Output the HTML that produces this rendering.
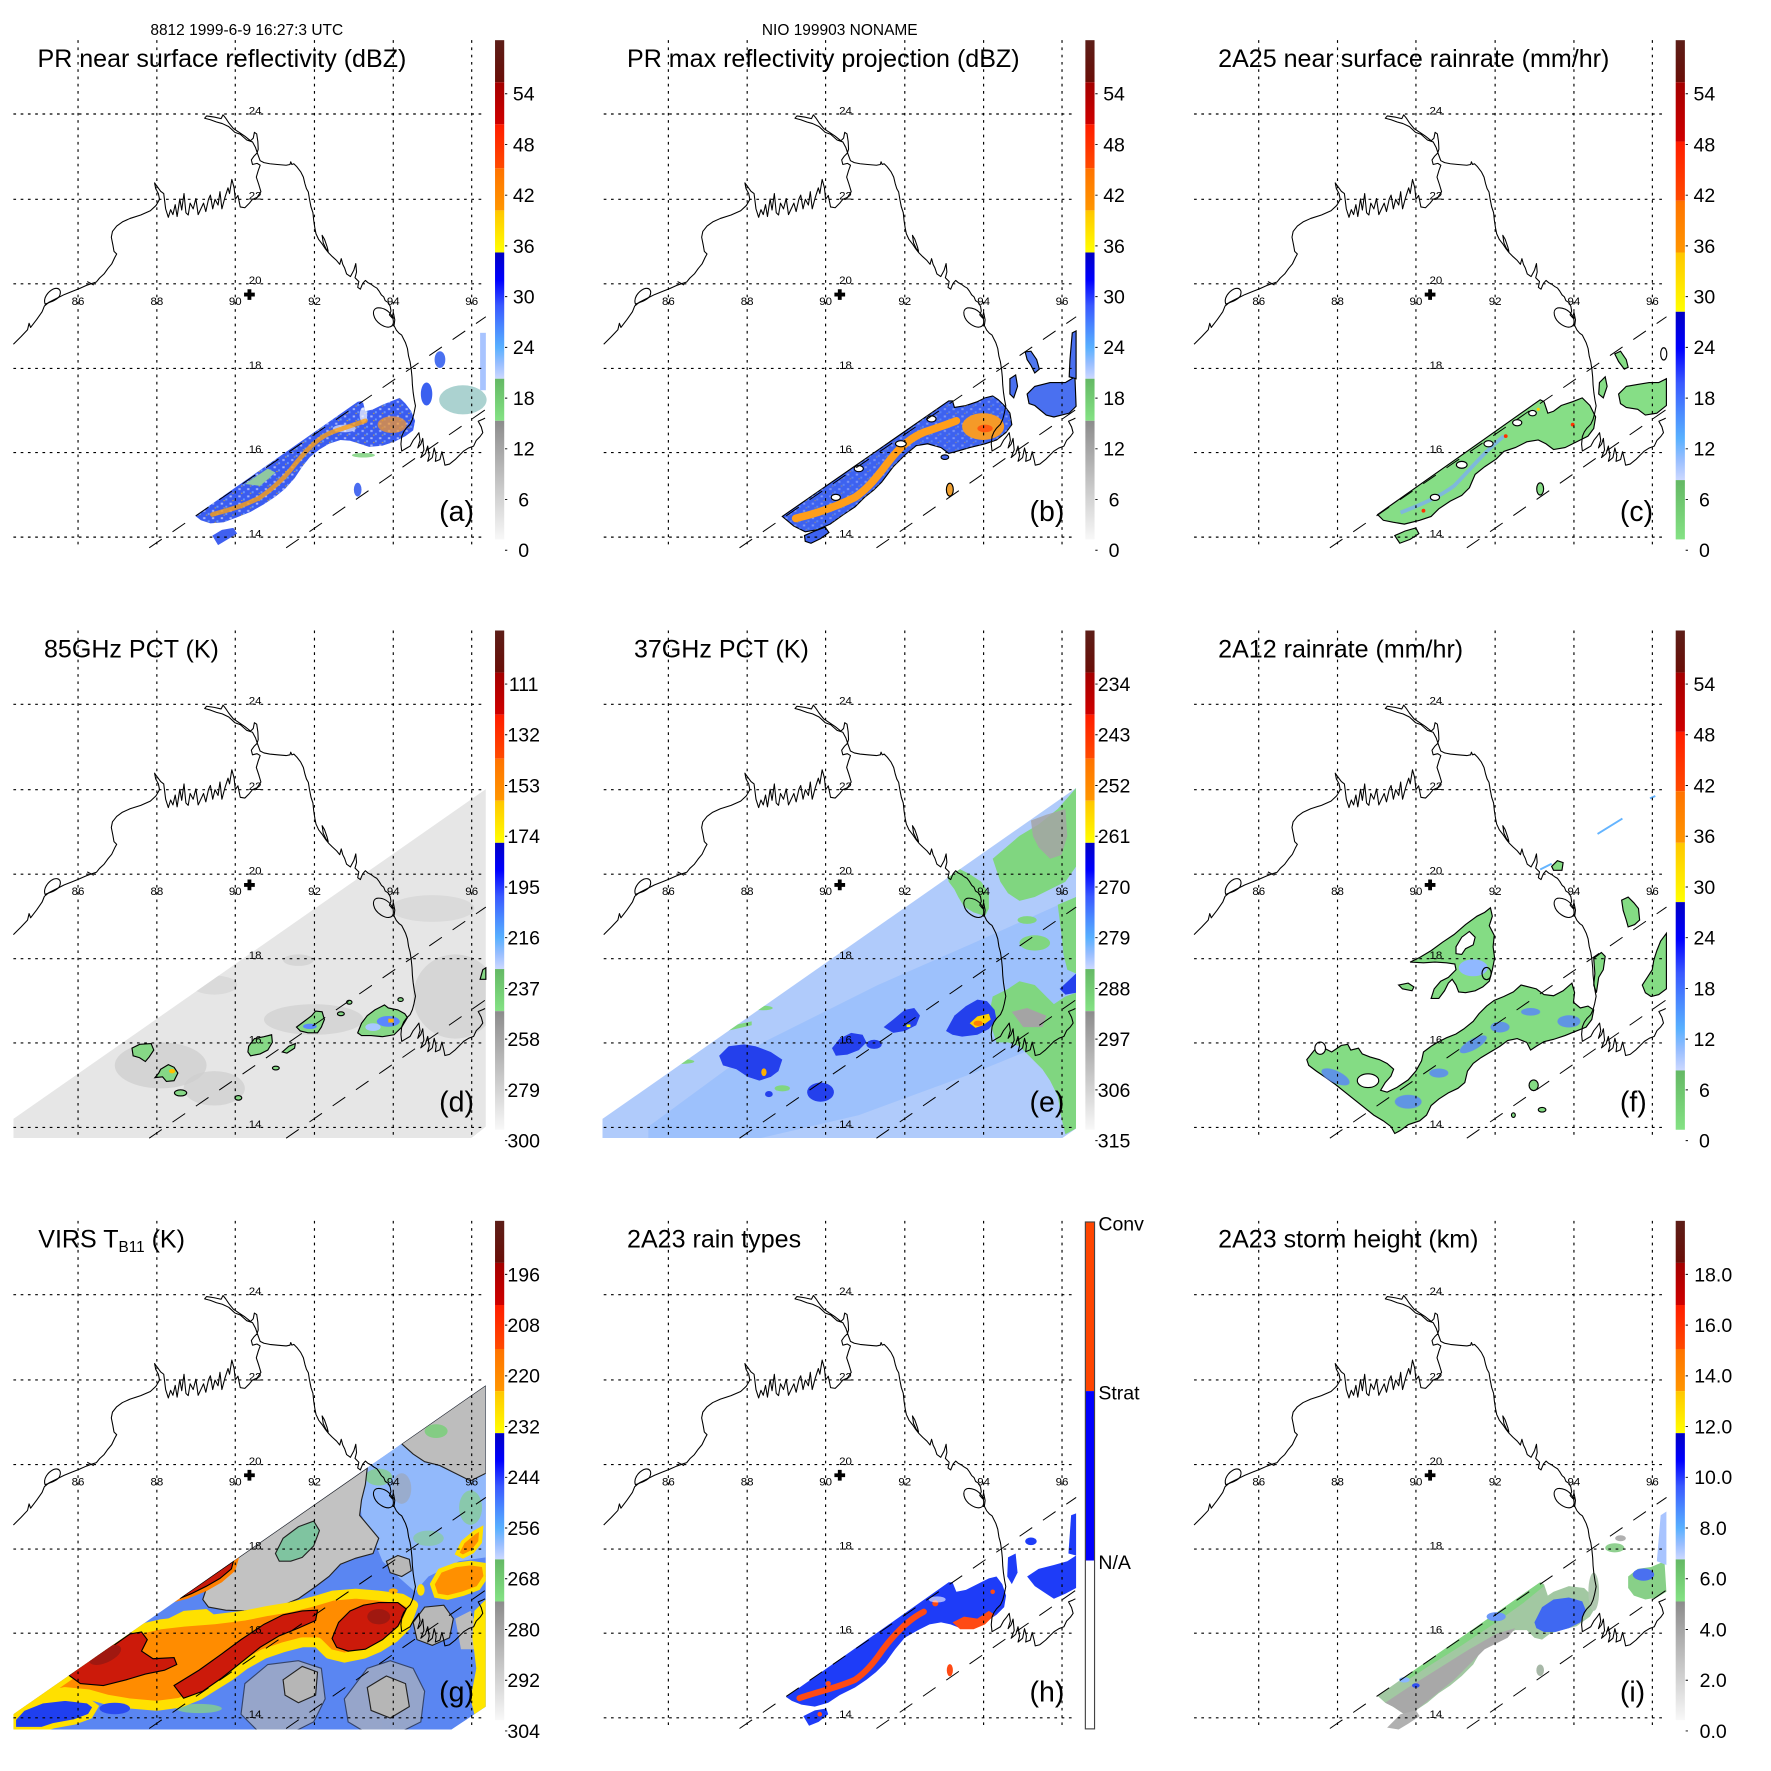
<!DOCTYPE html>
<html><head><meta charset="utf-8">
<style>
html,body{margin:0;padding:0;background:#fff;}
svg{display:block;}
text{font-family:"Liberation Sans",Arial,Helvetica,sans-serif;fill:#000;}
</style></head>
<body>
<svg xmlns="http://www.w3.org/2000/svg" xmlns:xlink="http://www.w3.org/1999/xlink" width="1771" height="1771" viewBox="0 0 1771 1771">
<rect width="1771" height="1771" fill="#fff"/>
<defs>
<linearGradient id="gBrown" x1="0" y1="0" x2="0" y2="1"><stop offset="0" stop-color="#5c1e18"/><stop offset="1" stop-color="#6a0e08"/></linearGradient>
<linearGradient id="gDkRed" x1="0" y1="0" x2="0" y2="1"><stop offset="0" stop-color="#a30000"/><stop offset="1" stop-color="#cf0000"/></linearGradient>
<linearGradient id="gRed" x1="0" y1="0" x2="0" y2="1"><stop offset="0" stop-color="#ff1c00"/><stop offset="1" stop-color="#ff4a00"/></linearGradient>
<linearGradient id="gOrange" x1="0" y1="0" x2="0" y2="1"><stop offset="0" stop-color="#ff7200"/><stop offset="1" stop-color="#ff9600"/></linearGradient>
<linearGradient id="gYellow" x1="0" y1="0" x2="0" y2="1"><stop offset="0" stop-color="#ffc600"/><stop offset="1" stop-color="#ffff00"/></linearGradient>
<linearGradient id="gBlue" x1="0" y1="0" x2="0" y2="1"><stop offset="0" stop-color="#0000c4"/><stop offset="0.22" stop-color="#0000ff"/><stop offset="0.42" stop-color="#3858ff"/><stop offset="0.6" stop-color="#4a8aff"/><stop offset="0.75" stop-color="#58b0ff"/><stop offset="0.88" stop-color="#98beff"/><stop offset="1" stop-color="#ccd8ff"/></linearGradient>
<linearGradient id="gGreen" x1="0" y1="0" x2="0" y2="1"><stop offset="0" stop-color="#64b864"/><stop offset="1" stop-color="#84e284"/></linearGradient>
<linearGradient id="gGrey" x1="0" y1="0" x2="0" y2="1"><stop offset="0" stop-color="#8c8c8c"/><stop offset="1" stop-color="#f8f8f8"/></linearGradient>
<pattern id="speck" width="23" height="19" patternUnits="userSpaceOnUse">
<rect x="2" y="3" width="6" height="5" fill="#fff" opacity="0.55"/>
<rect x="14" y="11" width="5" height="5" fill="#7fb4ff" opacity="0.7"/>
<rect x="9" y="15" width="4" height="3" fill="#ffc000" opacity="0.6"/>
</pattern>

<clipPath id="clipD"><path d="M35,1380 L1270,518 L1270,1400 L1232,1430 L35,1430 Z"/></clipPath>
<clipPath id="clipE"><path d="M30,1380 L1268,515 L1268,1405 L1232,1430 L30,1430 Z"/></clipPath>
<clipPath id="clipG"><path d="M35,1420 L1270,560 L1270,1400 L1180,1460 L35,1460 Z"/></clipPath>

<g id="grid"><path d="M204,105V1430M410,105V1430M615,105V1430M822,105V1430M1028,105V1430M1233,105V1430M35,298H1270M35,521H1270M35,742H1270M35,963H1270M35,1183H1270M35,1404H1270" fill="none" stroke="#000" stroke-width="3" stroke-dasharray="7 12"/></g>
<g id="swath"><path d="M390,1432L1270,828M748,1432L1270,1070" fill="none" stroke="#000" stroke-width="2.6" stroke-dasharray="40 34"/></g>
<g id="coast" fill="none" stroke="#000" stroke-width="2.8" stroke-linejoin="round">
<path d="M35,900 L55,880 L72,862 L76,845 L80,856 L96,835 L110,815 L116,800 L128,790 L148,780 L168,770 L188,762 L208,754 L226,746 L240,741 L252,737 L260,727 L272,716 L282,702 L292,690 L300,673 L305,664 L298,657 L295,640 L291,620 L294,605 L305,591 L320,580 L340,571 L368,562 L393,551 L408,537 L417,521 L414,506 L407,493 L404,478 L412,489 L420,500 L428,506 L430,522 L433,546 L440,568 L446,548 L452,561 L458,535 L463,566 L470,520 L475,549 L481,506 L486,556 L492,562 L497,531 L505,546 L512,519 L518,561 L525,546 L532,531 L538,553 L545,521 L550,510 L556,546 L562,521 L570,536 L575,501 L580,546 L588,516 L596,491 L600,506 L606,469 L612,491 L615,521 L622,511 L628,541 L640,543 L652,531 L660,521 L672,516 L682,501 L676,481 L670,463 L675,446 L680,432 L672,427 L660,430 L657,418 L664,408 L672,400 L675,390 L674,370 L671,350 L665,346 L662,361 L655,368 L640,356 L625,346 L610,336 L598,321 L590,309 L583,300 L578,310 L560,306 L540,303 L535,309 L550,313 L566,319 L581,323 L598,331 L614,346 L628,351 L645,366 L660,371 L668,386 L673,401 L680,420 L690,425 L705,428 L725,430 L748,432 L758,430 L760,423 L763,430 L768,428 L776,436 L786,449 L793,463 L797,480 L801,493 L806,502 L809,521 L813,541 L818,556 L820,576 L823,596 L826,611 L833,626 L843,639 L851,651 L859,661 L869,671 L880,681 L888,691 L892,676 L896,691 L901,701 L906,716 L916,723 L925,706 L930,689 L932,711 L928,726 L938,736 L935,751 L942,756 L948,741 L955,733 L962,739 L970,743 L978,749 L985,753 L991,761 L997,771 L1003,776 L1007,786 L1015,791 L1020,801 L1022,813 L1018,823 L1025,831 L1028,816 L1032,836 L1030,851 L1036,863 L1043,871 L1050,876 L1055,886 L1060,896 L1065,911 L1068,931 L1072,946 L1075,966 L1077,986 L1078,1006 L1080,1026 L1083,1046 L1086,1061 L1082,1081 L1078,1096 L1072,1109 L1062,1119 L1055,1129 L1050,1141 L1048,1161 L1050,1179 L1060,1173 L1072,1166 L1080,1151 L1088,1141 L1095,1131 L1098,1151 L1092,1171 L1100,1161 L1105,1146 L1108,1176 L1100,1196 L1112,1186 L1118,1166 L1122,1191 L1118,1206 L1130,1196 L1135,1171 L1140,1191 L1138,1206 L1150,1201 L1155,1181 L1160,1201 L1163,1216 L1175,1213 L1190,1201 L1200,1191 L1212,1179 L1225,1171 L1238,1166 L1245,1151 L1255,1141 L1262,1131 L1258,1116 L1250,1101 L1262,1096 L1268,1093"/>
<path d="M118,795 C112,780 125,762 140,755 C155,750 162,760 155,775 C148,785 130,790 118,795 Z"/>
<path d="M985,805 C970,810 975,835 995,848 C1010,858 1025,858 1028,845 C1030,830 1020,815 1005,808 C998,805 990,804 985,805 Z"/>
<path d="M842,615 L848,625 L855,645 L858,657 L852,650 L845,635 Z"/>
<path d="M228,736 L245,745"/>
</g>
<path id="cross" d="M638,765h28v10h-28zM647,756h10v28h-10z" fill="#000"/>
<g id="cbStd">
<rect x="1294" y="105" width="24" height="110" fill="url(#gBrown)"/>
<rect x="1294" y="215" width="24" height="110" fill="url(#gDkRed)"/>
<rect x="1294" y="325" width="24" height="115" fill="url(#gRed)"/>
<rect x="1294" y="440" width="24" height="110" fill="url(#gOrange)"/>
<rect x="1294" y="550" width="24" height="110" fill="url(#gYellow)"/>
<rect x="1294" y="660" width="24" height="330" fill="url(#gBlue)"/>
<rect x="1294" y="990" width="24" height="110" fill="url(#gGreen)"/>
<rect x="1294" y="1100" width="24" height="310" fill="url(#gGrey)"/>
<path d="M1320,245h6M1320,377.6h6M1320,510.2h6M1320,642.8h6M1320,775.4h6M1320,908h6M1320,1040.6h6M1320,1173.2h6M1320,1305.8h6M1320,1438.4h6" stroke="#000" stroke-width="2.5"/>
</g>
<g id="cbRain">
<rect x="1294" y="105" width="24" height="110" fill="url(#gBrown)"/>
<rect x="1294" y="215" width="24" height="155" fill="url(#gDkRed)"/>
<rect x="1294" y="370" width="24" height="155" fill="url(#gRed)"/>
<rect x="1294" y="525" width="24" height="135" fill="url(#gOrange)"/>
<rect x="1294" y="660" width="24" height="155" fill="url(#gYellow)"/>
<rect x="1294" y="815" width="24" height="440" fill="url(#gBlue)"/>
<rect x="1294" y="1255" width="24" height="155" fill="url(#gGreen)"/>
<path d="M1320,245h6M1320,377.6h6M1320,510.2h6M1320,642.8h6M1320,775.4h6M1320,908h6M1320,1040.6h6M1320,1173.2h6M1320,1305.8h6M1320,1438.4h6" stroke="#000" stroke-width="2.5"/>
</g>
</defs>

<!-- ================= (a) ================= -->
<g transform="translate(0,0) scale(0.38256)">
<g>
<path id="bandA" d="M510,1348 L935,1050 L948,1048 L955,1075 L975,1070 L1000,1058 L1025,1048 L1045,1040 L1060,1055 L1075,1075 L1085,1100 L1080,1125 L1060,1140 L1030,1155 L1000,1165 L965,1168 L940,1160 L915,1152 L890,1150 L860,1160 L835,1175 L810,1195 L790,1220 L770,1250 L745,1278 L720,1298 L690,1318 L655,1338 L620,1352 L585,1365 L550,1368 L525,1360 Z" fill="#3a5cf0"/>
<path d="M510,1348 L935,1050 L948,1048 L955,1075 L975,1070 L1000,1058 L1025,1048 L1045,1040 L1060,1055 L1075,1075 L1085,1100 L1080,1125 L1060,1140 L1030,1155 L1000,1165 L965,1168 L940,1160 L915,1152 L890,1150 L860,1160 L835,1175 L810,1195 L790,1220 L770,1250 L745,1278 L720,1298 L690,1318 L655,1338 L620,1352 L585,1365 L550,1368 L525,1360 Z" fill="url(#speck)"/>
<ellipse cx="900" cy="1120" rx="30" ry="10" fill="#fff" opacity="0.6"/>
<ellipse cx="950" cy="1085" rx="10" ry="20" fill="#fff" opacity="0.7"/>
<path d="M640,1265 L700,1225 L720,1235 L680,1270 Z" fill="#90c8a0"/>
<path d="M555,1345 C600,1332 640,1322 680,1300 C720,1272 742,1250 762,1225 C790,1190 822,1150 862,1132 C892,1120 922,1112 955,1100" fill="none" stroke="#ffa010" stroke-width="12" stroke-linecap="round" opacity="0.8"/>
<ellipse cx="1025" cy="1110" rx="38" ry="22" fill="#ff9a20" opacity="0.7"/>
<ellipse cx="1210" cy="1045" rx="62" ry="38" fill="#9ccac8" opacity="0.85"/>
<rect x="1255" y="870" width="15" height="150" fill="#a8c4ff"/>
<ellipse cx="1150" cy="940" rx="14" ry="22" fill="#4a70f0"/>
<ellipse cx="1115" cy="1030" rx="15" ry="30" fill="#3a60f0"/>
<path d="M555,1400 L580,1385 L610,1380 L620,1395 L595,1410 L570,1425 Z" fill="#4060f0"/>
<ellipse cx="935" cy="1280" rx="10" ry="18" fill="#4a6cf0"/>
<ellipse cx="950" cy="1190" rx="30" ry="6" fill="#90d890"/>
</g>
<use href="#swath" xlink:href="#swath"/><use href="#grid" xlink:href="#grid"/><use href="#coast" xlink:href="#coast"/><use href="#cross" xlink:href="#cross"/><use href="#cbStd" xlink:href="#cbStd"/>
<g font-size="30" text-anchor="middle"><text x="204" y="797">86</text><text x="410" y="797">88</text><text x="615" y="797">90</text><text x="822" y="797">92</text><text x="1028" y="797">94</text><text x="1233" y="797">96</text><text x="667" y="299">24</text><text x="667" y="522">22</text><text x="667" y="743">20</text><text x="667" y="964">18</text><text x="667" y="1184">16</text><text x="667" y="1405">14</text></g>
<text x="645" y="92" font-size="40.5" text-anchor="middle">8812 1999-6-9 16:27:3 UTC</text>
<text x="98" y="175" font-size="65.5">PR near surface reflectivity (dBZ)</text>
<g font-size="51" text-anchor="middle"><text x="1369" y="263">54</text><text x="1369" y="395.6">48</text><text x="1369" y="528.2">42</text><text x="1369" y="660.8">36</text><text x="1369" y="793.4">30</text><text x="1369" y="926">24</text><text x="1369" y="1058.6">18</text><text x="1369" y="1191.2">12</text><text x="1369" y="1323.8">6</text><text x="1369" y="1456.4">0</text></g>
<text x="1148" y="1362" font-size="74.5">(a)</text>
</g>

<!-- ================= (b) ================= -->
<g transform="translate(590.33,0) scale(0.38256)">
<g transform="translate(1.75,0)">
<path d="M500,1350 L935,1048 L945,1048 L950,1065 L980,1060 L1010,1050 L1030,1040 L1050,1035 L1065,1045 L1080,1060 L1095,1080 L1100,1110 L1085,1130 L1060,1150 L1030,1160 L990,1170 L955,1180 L935,1185 L915,1170 L880,1160 L850,1165 L820,1190 L790,1220 L760,1260 L740,1280 L715,1300 L690,1325 L660,1345 L625,1370 L590,1385 L560,1390 L530,1375 Z" fill="#3d62f0" stroke="#000" stroke-width="3"/>
<path d="M500,1350 L935,1048 L945,1048 L950,1065 L980,1060 L1010,1050 L1030,1040 L1050,1035 L1065,1045 L1080,1060 L1095,1080 L1100,1110 L1085,1130 L1060,1150 L1030,1160 L990,1170 L955,1180 L935,1185 L915,1170 L880,1160 L850,1165 L820,1190 L790,1220 L760,1260 L740,1280 L715,1300 L690,1325 L660,1345 L625,1370 L590,1385 L560,1390 L530,1375 Z" fill="url(#speck)" opacity="0.6"/>
<path d="M535,1355 C600,1340 650,1320 690,1300 C720,1280 740,1255 760,1230 C790,1190 820,1150 870,1130 C900,1120 930,1110 955,1100" fill="none" stroke="#ff9e1a" stroke-width="20" stroke-linecap="round"/>
<ellipse cx="1025" cy="1115" rx="55" ry="35" fill="#f59a28"/>
<ellipse cx="1030" cy="1120" rx="20" ry="10" fill="#ff5a10"/>
<ellipse cx="700" cy="1225" rx="12" ry="8" fill="#fff" stroke="#000" stroke-width="3"/>
<ellipse cx="810" cy="1160" rx="14" ry="8" fill="#fff" stroke="#000" stroke-width="3"/>
<ellipse cx="890" cy="1095" rx="12" ry="8" fill="#fff" stroke="#000" stroke-width="3"/>
<ellipse cx="640" cy="1300" rx="12" ry="8" fill="#fff" stroke="#000" stroke-width="3"/>
<path d="M1140,1030 L1160,1010 L1200,1000 L1240,1000 L1265,985 L1268,1062 L1250,1080 L1210,1090 L1190,1085 L1160,1060 L1145,1055 Z" fill="#4a70f0" stroke="#000" stroke-width="3"/>
<path d="M1135,920 L1150,918 L1165,940 L1172,965 L1160,975 L1150,955 L1140,940 Z" fill="#5078f0" stroke="#000" stroke-width="3"/>
<path d="M1258,870 L1268,865 L1268,990 L1250,985 L1252,940 Z" fill="#4a70f0" stroke="#000" stroke-width="3"/>
<path d="M1095,990 L1110,980 L1115,1010 L1105,1040 L1095,1030 Z" fill="#4a70f0" stroke="#000" stroke-width="3"/>
<path d="M558,1400 L585,1388 L612,1378 L622,1392 L600,1408 L575,1420 L560,1415 Z" fill="#3d62f0" stroke="#000" stroke-width="3"/>
<ellipse cx="938" cy="1280" rx="9" ry="17" fill="#f0a030" stroke="#000" stroke-width="3"/>
<ellipse cx="925" cy="1195" rx="10" ry="6" fill="#4a6cf0" stroke="#000" stroke-width="3"/>
</g>
<use href="#swath" xlink:href="#swath"/><use href="#grid" xlink:href="#grid"/><use href="#coast" xlink:href="#coast"/><use href="#cross" xlink:href="#cross"/><use href="#cbStd" xlink:href="#cbStd"/>
<g font-size="30" text-anchor="middle"><text x="204" y="797">86</text><text x="410" y="797">88</text><text x="615" y="797">90</text><text x="822" y="797">92</text><text x="1028" y="797">94</text><text x="1233" y="797">96</text><text x="667" y="299">24</text><text x="667" y="522">22</text><text x="667" y="743">20</text><text x="667" y="964">18</text><text x="667" y="1184">16</text><text x="667" y="1405">14</text></g>
<text x="652" y="92" font-size="40.5" text-anchor="middle">NIO 199903 NONAME</text>
<text x="96" y="175" font-size="65.5">PR max reflectivity projection (dBZ)</text>
<g font-size="51" text-anchor="middle"><text x="1369" y="263">54</text><text x="1369" y="395.6">48</text><text x="1369" y="528.2">42</text><text x="1369" y="660.8">36</text><text x="1369" y="793.4">30</text><text x="1369" y="926">24</text><text x="1369" y="1058.6">18</text><text x="1369" y="1191.2">12</text><text x="1369" y="1323.8">6</text><text x="1369" y="1456.4">0</text></g>
<text x="1148" y="1362" font-size="74.5">(b)</text>
</g>

<!-- ================= (c) ================= -->
<g transform="translate(1180.67,0) scale(0.38256)">
<g transform="translate(-25.3,0)">
<path d="M540,1345 L965,1045 L975,1050 L985,1080 L1000,1075 L1020,1060 L1050,1050 L1075,1040 L1095,1060 L1110,1090 L1105,1120 L1090,1140 L1060,1155 L1030,1170 L1000,1175 L980,1160 L960,1150 L930,1155 L900,1170 L870,1180 L850,1200 L820,1220 L795,1240 L780,1275 L760,1295 L730,1310 L700,1330 L680,1350 L650,1360 L610,1370 L580,1365 L555,1360 Z" fill="#86de86" stroke="#000" stroke-width="3"/>
<path d="M600,1340 C650,1320 700,1300 740,1270 C780,1230 820,1180 870,1140" fill="none" stroke="#7aa8ff" stroke-width="10" opacity="0.7"/>
<ellipse cx="690" cy="1300" rx="12" ry="8" fill="#fff" stroke="#000" stroke-width="3"/>
<ellipse cx="760" cy="1215" rx="14" ry="9" fill="#fff" stroke="#000" stroke-width="3"/>
<ellipse cx="830" cy="1160" rx="12" ry="8" fill="#fff" stroke="#000" stroke-width="3"/>
<ellipse cx="905" cy="1105" rx="12" ry="8" fill="#fff" stroke="#000" stroke-width="3"/>
<ellipse cx="945" cy="1080" rx="10" ry="7" fill="#fff" stroke="#000" stroke-width="3"/>
<circle cx="660" cy="1335" r="5" fill="#ff3000"/><circle cx="875" cy="1140" r="5" fill="#ff3000"/><circle cx="1050" cy="1110" r="5" fill="#ff3000"/><circle cx="960" cy="1070" r="4" fill="#ffd000"/>
<path d="M1170,1030 L1190,1010 L1220,1005 L1250,1000 L1275,1000 L1295,990 L1295,1060 L1270,1080 L1240,1085 L1220,1070 L1190,1065 L1175,1055 Z" fill="#86de86" stroke="#000" stroke-width="3"/>
<path d="M1160,925 L1175,918 L1190,940 L1195,960 L1185,965 L1170,945 Z" fill="#86de86" stroke="#000" stroke-width="3"/>
<ellipse cx="1288" cy="925" rx="8" ry="16" fill="none" stroke="#000" stroke-width="3"/>
<path d="M1120,1000 L1135,985 L1140,1010 L1130,1040 L1118,1030 Z" fill="#86de86" stroke="#000" stroke-width="3"/>
<path d="M585,1400 L612,1388 L640,1380 L648,1395 L625,1410 L598,1420 Z" fill="#86de86" stroke="#000" stroke-width="3"/>
<ellipse cx="965" cy="1278" rx="9" ry="16" fill="#86de86" stroke="#000" stroke-width="3"/>
</g>
<use href="#swath" xlink:href="#swath"/><use href="#grid" xlink:href="#grid"/><use href="#coast" xlink:href="#coast"/><use href="#cross" xlink:href="#cross"/><use href="#cbRain" xlink:href="#cbRain"/>
<g font-size="30" text-anchor="middle"><text x="204" y="797">86</text><text x="410" y="797">88</text><text x="615" y="797">90</text><text x="822" y="797">92</text><text x="1028" y="797">94</text><text x="1233" y="797">96</text><text x="667" y="299">24</text><text x="667" y="522">22</text><text x="667" y="743">20</text><text x="667" y="964">18</text><text x="667" y="1184">16</text><text x="667" y="1405">14</text></g>
<text x="98" y="175" font-size="65.5">2A25 near surface rainrate (mm/hr)</text>
<g font-size="51" text-anchor="middle"><text x="1369" y="263">54</text><text x="1369" y="395.6">48</text><text x="1369" y="528.2">42</text><text x="1369" y="660.8">36</text><text x="1369" y="793.4">30</text><text x="1369" y="926">24</text><text x="1369" y="1058.6">18</text><text x="1369" y="1191.2">12</text><text x="1369" y="1323.8">6</text><text x="1369" y="1456.4">0</text></g>
<text x="1148" y="1362" font-size="74.5">(c)</text>
</g>

<!-- ================= (d) ================= -->
<g transform="translate(0,590.33) scale(0.38256)">
<g transform="translate(0,1.75)">
<g clip-path="url(#clipD)">
<rect x="0" y="500" width="1300" height="950" fill="#e6e6e6"/>
<ellipse cx="420" cy="1240" rx="120" ry="60" fill="#cdcdcd" opacity="0.75"/>
<ellipse cx="560" cy="1300" rx="80" ry="45" fill="#cfcfcf" opacity="0.75"/>
<ellipse cx="1190" cy="1060" rx="110" ry="110" fill="#d0d0d0" opacity="0.75"/>
<ellipse cx="820" cy="1120" rx="130" ry="40" fill="#d6d6d6"/>
<ellipse cx="1130" cy="830" rx="110" ry="35" fill="#dadada"/>
<ellipse cx="560" cy="1030" rx="60" ry="25" fill="#dadada"/>
<ellipse cx="780" cy="965" rx="40" ry="15" fill="#d6d6d6"/>
</g>
<g fill="#86d886" stroke="#000" stroke-width="3">
<path d="M345,1195 L365,1185 L395,1183 L402,1200 L390,1218 L380,1230 L365,1220 L348,1215 Z"/>
<path d="M420,1250 L440,1238 L455,1245 L465,1260 L455,1280 L435,1282 L425,1270 L405,1272 L415,1260 Z"/>
<ellipse cx="472" cy="1312" rx="16" ry="8"/>
<path d="M650,1190 L665,1170 L690,1165 L710,1160 L712,1180 L700,1200 L680,1210 L655,1215 L648,1205 Z"/>
<path d="M738,1205 L755,1190 L772,1183 L770,1195 L750,1208 Z"/>
<path d="M775,1140 L795,1125 L815,1110 L825,1098 L842,1100 L848,1120 L840,1140 L830,1155 L805,1155 L785,1150 Z"/>
<path d="M935,1155 L945,1130 L960,1110 L980,1095 L1005,1082 L1015,1090 L1040,1095 L1058,1105 L1065,1115 L1050,1140 L1030,1160 L1000,1165 L970,1162 L945,1162 Z"/>
<ellipse cx="891" cy="1105" rx="9" ry="5"/><ellipse cx="913" cy="1075" rx="7" ry="5"/><ellipse cx="721" cy="1247" rx="9" ry="5"/><ellipse cx="623" cy="1325" rx="9" ry="6"/><ellipse cx="1047" cy="1068" rx="7" ry="5"/>
<path d="M1255,1015 L1262,990 L1270,985 L1270,1015 Z"/>
</g>
<ellipse cx="1015" cy="1125" rx="30" ry="14" fill="#5a86ff"/>
<ellipse cx="975" cy="1140" rx="20" ry="10" fill="#a8c8ff"/>
<ellipse cx="810" cy="1138" rx="18" ry="7" fill="#5a86ff"/>
<rect x="1015" y="1118" width="14" height="10" fill="#ffb000"/>
<ellipse cx="450" cy="1255" rx="8" ry="6" fill="#ffc000"/>
</g>
<use href="#swath" xlink:href="#swath"/><use href="#grid" xlink:href="#grid"/><use href="#coast" xlink:href="#coast"/><use href="#cross" xlink:href="#cross"/><use href="#cbStd" xlink:href="#cbStd"/>
<g font-size="30" text-anchor="middle"><text x="204" y="797">86</text><text x="410" y="797">88</text><text x="615" y="797">90</text><text x="822" y="797">92</text><text x="1028" y="797">94</text><text x="1233" y="797">96</text><text x="667" y="299">24</text><text x="667" y="522">22</text><text x="667" y="743">20</text><text x="667" y="964">18</text><text x="667" y="1184">16</text><text x="667" y="1405">14</text></g>
<text x="115" y="175" font-size="65.5">85GHz PCT (K)</text>
<g font-size="51" text-anchor="middle"><text x="1369" y="263">111</text><text x="1369" y="395.6">132</text><text x="1369" y="528.2">153</text><text x="1369" y="660.8">174</text><text x="1369" y="793.4">195</text><text x="1369" y="926">216</text><text x="1369" y="1058.6">237</text><text x="1369" y="1191.2">258</text><text x="1369" y="1323.8">279</text><text x="1369" y="1456.4">300</text></g>
<text x="1148" y="1362" font-size="74.5">(d)</text>
</g>

<!-- ================= (e) ================= -->
<g transform="translate(590.33,590.33) scale(0.38256)">
<g transform="translate(1.75,1.75)">
<g clip-path="url(#clipE)">
<rect x="0" y="500" width="1300" height="950" fill="#b0cbfb"/>
<path d="M150,1400 L450,1180 L750,1030 L1000,920 L1268,800 L1268,1150 L1000,1260 L700,1370 L400,1440 L150,1440 Z" fill="#8ab8fd" opacity="0.5"/>
<g fill="#80d680">
<path d="M1050,700 L1120,640 L1170,610 L1220,570 L1268,515 L1268,720 L1240,760 L1200,780 L1160,800 L1120,810 L1090,790 L1070,760 L1060,730 Z"/>
<path d="M930,735 L960,725 L990,740 L1020,760 L1040,790 L1040,830 L1030,850 L1000,840 L975,825 L960,800 L950,780 L935,760 Z"/>
<path d="M1050,1060 L1090,1040 L1120,1020 L1160,1030 L1190,1060 L1210,1080 L1240,1060 L1268,1050 L1268,1405 L1240,1420 L1230,1380 L1220,1320 L1200,1280 L1180,1250 L1150,1220 L1120,1190 L1090,1180 L1060,1180 L1050,1150 L1040,1110 Z"/>
<path d="M1220,820 L1268,800 L1268,1000 L1245,990 L1235,950 L1230,900 Z"/>
<ellipse cx="1160" cy="920" rx="40" ry="20"/>
<path d="M350,1140 L420,1125 L420,1135 L355,1150 Z"/>
<ellipse cx="240" cy="1230" rx="30" ry="6"/><ellipse cx="500" cy="1300" rx="20" ry="8"/><ellipse cx="450" cy="1090" rx="25" ry="6"/><ellipse cx="1140" cy="860" rx="25" ry="10"/>
</g>
<path d="M1150,600 L1190,585 L1240,570 L1245,640 L1230,690 L1200,700 L1170,670 L1155,640 Z" fill="#a4a4a4" opacity="0.85"/>
<path d="M1100,1100 L1140,1090 L1190,1110 L1180,1140 L1130,1140 Z" fill="#a4a4a4"/>
<g fill="#2440ec">
<path d="M335,1215 L360,1190 L400,1185 L430,1190 L470,1205 L500,1225 L490,1255 L470,1270 L440,1280 L410,1270 L380,1250 L345,1240 Z"/>
<path d="M630,1195 L650,1170 L680,1155 L710,1160 L720,1180 L700,1200 L670,1212 L640,1215 Z"/>
<path d="M765,1140 L790,1120 L820,1095 L845,1090 L860,1110 L850,1135 L820,1150 L790,1155 Z"/>
<path d="M928,1150 L950,1110 L980,1085 L1010,1068 L1035,1072 L1055,1095 L1060,1120 L1040,1145 L1010,1160 L970,1165 L945,1160 Z"/>
<ellipse cx="600" cy="1310" rx="35" ry="25"/>
<path d="M1225,1040 L1268,1000 L1268,1050 L1240,1055 Z"/>
<ellipse cx="740" cy="1185" rx="20" ry="12"/>
<ellipse cx="465" cy="1315" rx="10" ry="8"/>
</g>
<path d="M990,1130 L1010,1112 L1040,1105 L1045,1120 L1025,1135 L1005,1142 Z" fill="#ffd000"/>
<ellipse cx="1012" cy="1130" rx="12" ry="7" fill="#ff8000"/>
<ellipse cx="452" cy="1258" rx="7" ry="10" fill="#ffb000"/>
<rect x="825" y="1133" width="10" height="7" fill="#ffff00"/>
</g>
</g>
<use href="#swath" xlink:href="#swath"/><use href="#grid" xlink:href="#grid"/><use href="#coast" xlink:href="#coast"/><use href="#cross" xlink:href="#cross"/><use href="#cbStd" xlink:href="#cbStd"/>
<g font-size="30" text-anchor="middle"><text x="204" y="797">86</text><text x="410" y="797">88</text><text x="615" y="797">90</text><text x="822" y="797">92</text><text x="1028" y="797">94</text><text x="1233" y="797">96</text><text x="667" y="299">24</text><text x="667" y="522">22</text><text x="667" y="743">20</text><text x="667" y="964">18</text><text x="667" y="1184">16</text><text x="667" y="1405">14</text></g>
<text x="114" y="175" font-size="65.5">37GHz PCT (K)</text>
<g font-size="51" text-anchor="middle"><text x="1369" y="263">234</text><text x="1369" y="395.6">243</text><text x="1369" y="528.2">252</text><text x="1369" y="660.8">261</text><text x="1369" y="793.4">270</text><text x="1369" y="926">279</text><text x="1369" y="1058.6">288</text><text x="1369" y="1191.2">297</text><text x="1369" y="1323.8">306</text><text x="1369" y="1456.4">315</text></g>
<text x="1148" y="1362" font-size="74.5">(e)</text>
</g>

<!-- ================= (f) ================= -->
<g transform="translate(1180.67,590.33) scale(0.38256)">
<g transform="translate(-25.3,1.75)">
<g fill="#84dc84" stroke="#000" stroke-width="3">
<path d="M355,1225 L375,1200 L400,1195 L420,1205 L445,1188 L462,1185 L470,1200 L490,1195 L500,1210 L520,1218 L545,1225 L565,1235 L582,1250 L575,1268 L560,1285 L548,1305 L565,1310 L590,1298 L620,1278 L640,1255 L655,1228 L660,1205 L680,1190 L700,1178 L720,1168 L745,1158 L765,1145 L790,1125 L805,1105 L825,1085 L845,1070 L870,1060 L895,1048 L915,1030 L935,1035 L955,1040 L975,1055 L1000,1058 L1025,1045 L1048,1025 L1055,1050 L1052,1075 L1070,1090 L1090,1085 L1105,1095 L1100,1120 L1085,1140 L1060,1150 L1030,1162 L1000,1172 L975,1178 L955,1190 L940,1200 L930,1180 L905,1170 L880,1175 L860,1190 L835,1205 L810,1220 L790,1235 L775,1255 L768,1285 L750,1300 L725,1312 L700,1328 L680,1345 L668,1370 L650,1385 L620,1395 L600,1410 L585,1418 L575,1400 L555,1385 L530,1370 L505,1350 L480,1330 L455,1310 L430,1290 L405,1272 L380,1255 L360,1240 Z"/>
<path d="M625,970 L650,958 L680,940 L710,918 L740,898 L770,872 L800,850 L820,840 L835,828 L840,850 L832,875 L845,900 L842,930 L846,960 L840,990 L832,1020 L815,1035 L795,1045 L770,1050 L752,1048 L745,1030 L735,1015 L725,1025 L715,1045 L700,1065 L680,1065 L688,1040 L705,1020 L725,1010 L745,990 L742,975 L720,972 L690,970 L660,972 Z"/>
<path d="M1240,1050 L1232,1030 L1245,1010 L1258,990 L1262,965 L1270,940 L1280,915 L1295,895 L1295,1040 L1275,1055 L1255,1060 Z"/>
<path d="M1178,808 L1195,800 L1210,815 L1222,830 L1225,860 L1212,872 L1195,878 L1190,860 L1182,835 Z"/>
<path d="M1105,960 L1125,945 L1135,955 L1130,990 L1118,1010 L1112,1050 L1105,1030 L1108,1000 Z"/>
<path d="M995,720 L1010,705 L1025,710 L1022,730 L1000,730 Z"/>
<path d="M595,1030 L620,1025 L635,1035 L630,1045 L605,1040 Z"/>
<ellipse cx="948" cy="1292" rx="12" ry="14"/><ellipse cx="970" cy="1356" rx="10" ry="6"/><ellipse cx="895" cy="1370" rx="5" ry="6"/>
</g>
<g fill="#5a88f5" opacity="0.85">
<ellipse cx="430" cy="1270" rx="40" ry="16" transform="rotate(25 430 1270)"/>
<ellipse cx="620" cy="1335" rx="35" ry="18"/>
<ellipse cx="790" cy="1185" rx="40" ry="14" transform="rotate(-30 790 1185)"/>
<ellipse cx="860" cy="1140" rx="25" ry="14"/>
<ellipse cx="1040" cy="1125" rx="30" ry="16"/>
<ellipse cx="940" cy="1100" rx="25" ry="10"/>
<ellipse cx="700" cy="1260" rx="25" ry="12"/>
</g>
<ellipse cx="515" cy="1280" rx="28" ry="18" fill="#fff" stroke="#000" stroke-width="3"/>
<ellipse cx="390" cy="1195" rx="14" ry="16" fill="#fff" stroke="#000" stroke-width="3"/>
<path d="M745,930 L760,905 L780,890 L795,905 L790,925 L770,935 L760,950 L745,948 Z" fill="#fff" stroke="#000" stroke-width="3"/>
<ellipse cx="790" cy="985" rx="38" ry="22" fill="#90b8ff"/>
<ellipse cx="825" cy="1000" rx="12" ry="16" fill="none" stroke="#000" stroke-width="3"/>
<path d="M1115,635 L1180,595 M1252,542 L1266,536 M965,728 L995,713" stroke="#64b4ff" stroke-width="5" fill="none"/>
</g>
<use href="#swath" xlink:href="#swath"/><use href="#grid" xlink:href="#grid"/><use href="#coast" xlink:href="#coast"/><use href="#cross" xlink:href="#cross"/><use href="#cbRain" xlink:href="#cbRain"/>
<g font-size="30" text-anchor="middle"><text x="204" y="797">86</text><text x="410" y="797">88</text><text x="615" y="797">90</text><text x="822" y="797">92</text><text x="1028" y="797">94</text><text x="1233" y="797">96</text><text x="667" y="299">24</text><text x="667" y="522">22</text><text x="667" y="743">20</text><text x="667" y="964">18</text><text x="667" y="1184">16</text><text x="667" y="1405">14</text></g>
<text x="98" y="175" font-size="65.5">2A12 rainrate (mm/hr)</text>
<g font-size="51" text-anchor="middle"><text x="1369" y="263">54</text><text x="1369" y="395.6">48</text><text x="1369" y="528.2">42</text><text x="1369" y="660.8">36</text><text x="1369" y="793.4">30</text><text x="1369" y="926">24</text><text x="1369" y="1058.6">18</text><text x="1369" y="1191.2">12</text><text x="1369" y="1323.8">6</text><text x="1369" y="1456.4">0</text></g>
<text x="1148" y="1362" font-size="74.5">(f)</text>
</g>

<!-- ================= (g) ================= -->
<g transform="translate(0,1180.67) scale(0.38256)">
<g transform="translate(0,-25.3)">
<g clip-path="url(#clipG)">
<rect x="0" y="540" width="1300" height="940" fill="#5a86f2"/>
<path d="M930,790 L1270,560 L1270,1010 L1200,1020 L1120,1060 L1085,1100 L1040,1060 L1000,1020 L975,960 L945,900 Z" fill="#92b9fb"/>
<ellipse cx="990" cy="800" rx="35" ry="22" fill="#86cf8a" opacity="0.8"/>
<ellipse cx="1230" cy="880" rx="30" ry="45" fill="#86cf8a" opacity="0.7"/>
<ellipse cx="1120" cy="960" rx="40" ry="20" fill="#86cf8a" opacity="0.6"/>
<ellipse cx="1050" cy="830" rx="25" ry="40" fill="#a0a0a0" opacity="0.5"/>
<path d="M545,1065 L960,776 L955,820 L945,860 L940,900 L965,930 L990,960 L975,1000 L930,1012 L890,1028 L860,1060 L820,1090 L780,1118 L740,1135 L690,1145 L640,1150 L590,1148 L545,1140 L530,1120 L540,1090 Z" fill="#c2c2c2" stroke="#222" stroke-width="3"/>
<path d="M720,1000 L740,960 L780,930 L820,915 L835,940 L820,980 L790,1010 L760,1020 L730,1020 Z" fill="#7fc4a0" stroke="#222" stroke-width="3"/>
<path d="M1050,713 L1270,560 L1270,790 L1230,810 L1190,790 L1150,770 L1110,760 L1080,740 Z" fill="#bdbdbd" stroke="#222" stroke-width="3"/>
<ellipse cx="1140" cy="680" rx="30" ry="18" fill="#84cc84"/>
<path d="M1010,1020 L1040,1005 L1070,1015 L1075,1045 L1050,1060 L1020,1050 Z" fill="#b8b8b8" stroke="#222" stroke-width="3"/>
<g opacity="0.65">
<path d="M640,1340 L700,1290 L780,1280 L840,1300 L850,1380 L820,1440 L760,1470 L680,1470 L630,1420 Z" fill="#b6b6b6" stroke="#222" stroke-width="3"/>
<path d="M900,1380 L960,1300 L1020,1280 L1080,1300 L1110,1360 L1100,1440 L1040,1470 L960,1470 L910,1440 Z" fill="#b6b6b6" stroke="#222" stroke-width="3"/>
</g>
<path d="M740,1330 L790,1295 L830,1310 L825,1370 L780,1390 L745,1370 Z" fill="#b6b6b6" stroke="#222" stroke-width="3"/>
<path d="M960,1350 L1010,1320 L1060,1340 L1070,1400 L1020,1430 L970,1410 Z" fill="#b6b6b6" stroke="#222" stroke-width="3"/>
<path d="M1080,1180 L1110,1140 L1160,1135 L1185,1170 L1175,1220 L1130,1240 L1090,1225 Z" fill="#b8b8b8" stroke="#222" stroke-width="3"/>
<path d="M1190,1170 L1230,1150 L1250,1200 L1240,1250 L1205,1250 Z" fill="#bcbcbc"/>
<ellipse cx="520" cy="1405" rx="60" ry="12" fill="#86cf8a" opacity="0.8"/>
<path d="M455,1127 L625,1010 L615,1045 L580,1075 L540,1098 L490,1118 Z" fill="#ff8000"/>
<path d="M470,1117 L610,1020 L605,1040 L575,1065 L540,1085 L500,1105 Z" fill="#c81a0a" stroke="#000" stroke-width="3"/>
<path d="M420,1180 L480,1150 L540,1145 L560,1160 L480,1178 Z" fill="#ffe000"/>
<path d="M35,1420 L200,1305 L350,1201 L420,1185 L480,1178 L560,1172 L640,1162 L700,1150 L760,1140 L820,1125 L870,1110 L930,1105 L990,1110 L1050,1118 L1080,1135 L1060,1190 L1030,1220 L990,1245 L950,1262 L900,1272 L860,1262 L830,1232 L790,1232 L740,1245 L690,1262 L640,1290 L600,1320 L560,1345 L520,1370 L470,1390 L410,1398 L340,1392 L280,1382 L230,1368 L170,1362 L110,1375 L60,1398 Z" fill="#ff8c00" stroke="#ffe000" stroke-width="26" stroke-linejoin="round"/>
<path d="M180,1318 L240,1275 L300,1238 L340,1210 L370,1205 L385,1225 L370,1255 L400,1275 L455,1272 L462,1290 L430,1305 L380,1315 L330,1330 L270,1345 L210,1340 Z" fill="#cc1a0a" stroke="#000" stroke-width="3"/>
<ellipse cx="275" cy="1265" rx="45" ry="20" fill="#a01810" transform="rotate(-25 275 1265)"/>
<path d="M455,1345 L520,1305 L580,1262 L630,1225 L690,1185 L740,1160 L790,1150 L830,1148 L825,1175 L780,1195 L730,1215 L680,1245 L630,1285 L580,1325 L530,1360 L480,1378 Z" fill="#cc1a0a" stroke="#000" stroke-width="3"/>
<path d="M868,1222 L885,1180 L915,1150 L950,1135 L990,1128 L1040,1128 L1062,1145 L1040,1190 L1000,1225 L955,1250 L910,1255 L880,1245 Z" fill="#cc1a0a" stroke="#000" stroke-width="3"/>
<ellipse cx="990" cy="1165" rx="30" ry="20" fill="#a01810"/>
<path d="M35,1460 L35,1432 L60,1405 L110,1385 L170,1378 L230,1385 L250,1400 L235,1425 L195,1440 L140,1450 L110,1460 Z" fill="#1f3ff0" stroke="#ffe000" stroke-width="14"/>
<ellipse cx="300" cy="1405" rx="40" ry="15" fill="#2a4af0"/>
<path d="M1130,1080 L1150,1045 L1190,1030 L1230,1025 L1265,1030 L1270,1060 L1250,1090 L1210,1105 L1170,1115 L1140,1110 Z" fill="#ff9000" stroke="#ffe000" stroke-width="12"/>
<path d="M1195,1000 L1210,970 L1240,945 L1258,935 L1255,970 L1235,995 L1210,1008 Z" fill="#ff9000" stroke="#ffe000" stroke-width="10"/>
<path d="M1240,1150 L1270,1120 L1270,1400 L1240,1420 L1230,1380 L1245,1300 L1235,1220 Z" fill="#ffe600"/>
<ellipse cx="1100" cy="1095" rx="10" ry="15" fill="#ffe000"/>
<ellipse cx="1028" cy="1098" rx="12" ry="7" fill="#ffb000"/>
</g>
</g>
<use href="#swath" xlink:href="#swath"/><use href="#grid" xlink:href="#grid"/><use href="#coast" xlink:href="#coast"/><use href="#cross" xlink:href="#cross"/><use href="#cbStd" xlink:href="#cbStd"/>
<g font-size="30" text-anchor="middle"><text x="204" y="797">86</text><text x="410" y="797">88</text><text x="615" y="797">90</text><text x="822" y="797">92</text><text x="1028" y="797">94</text><text x="1233" y="797">96</text><text x="667" y="299">24</text><text x="667" y="522">22</text><text x="667" y="743">20</text><text x="667" y="964">18</text><text x="667" y="1184">16</text><text x="667" y="1405">14</text></g>
<text x="100" y="175" font-size="65.5">VIRS T<tspan font-size="40" dy="12">B11</tspan><tspan dy="-12"> (K)</tspan></text>
<g font-size="51" text-anchor="middle"><text x="1369" y="263">196</text><text x="1369" y="395.6">208</text><text x="1369" y="528.2">220</text><text x="1369" y="660.8">232</text><text x="1369" y="793.4">244</text><text x="1369" y="926">256</text><text x="1369" y="1058.6">268</text><text x="1369" y="1191.2">280</text><text x="1369" y="1323.8">292</text><text x="1369" y="1456.4">304</text></g>
<text x="1148" y="1362" font-size="74.5">(g)</text>
</g>

<!-- ================= (h) ================= -->
<g transform="translate(590.33,1180.67) scale(0.38256)">
<g transform="translate(1.75,-25.3)">
<path d="M510,1375 L935,1075 L945,1075 L955,1100 L980,1095 L1010,1080 L1040,1065 L1060,1060 L1075,1080 L1085,1110 L1080,1140 L1060,1160 L1030,1180 L1000,1195 L965,1195 L940,1185 L915,1180 L885,1185 L855,1200 L820,1220 L795,1250 L770,1285 L745,1310 L720,1330 L690,1350 L650,1370 L620,1390 L585,1400 L550,1395 L525,1385 Z" fill="#1e3cf8"/>
<path d="M545,1378 C590,1362 640,1352 690,1330 C720,1310 742,1282 762,1252 C792,1212 830,1172 870,1152" fill="none" stroke="#ff4a14" stroke-width="16" stroke-linecap="round"/>
<path d="M945,1180 L975,1165 L1010,1170 L1040,1150 L1055,1160 L1030,1185 L1000,1198 L965,1198 Z" fill="#ff4a14"/>
<circle cx="900" cy="1130" r="8" fill="#ff4a14"/><circle cx="1050" cy="1100" r="6" fill="#ff4a14"/><circle cx="620" cy="1340" r="7" fill="#ff4a14"/>
<ellipse cx="905" cy="1120" rx="22" ry="8" fill="#fff" opacity="0.6"/>
<path d="M1140,1060 L1170,1040 L1210,1030 L1245,1020 L1268,1005 L1268,1090 L1240,1105 L1210,1118 L1190,1105 L1160,1085 Z" fill="#1e3cf8"/>
<path d="M1255,900 L1268,895 L1268,1005 L1248,1000 Z" fill="#1e3cf8"/>
<path d="M1090,1010 L1110,1000 L1115,1050 L1100,1080 L1088,1060 Z" fill="#1e3cf8"/>
<ellipse cx="1150" cy="968" rx="15" ry="10" fill="#1e3cf8"/>
<path d="M555,1425 L585,1410 L615,1405 L620,1420 L595,1440 L570,1450 Z" fill="#1e3cf8"/>
<circle cx="598" cy="1420" r="6" fill="#ff4a14"/>
<ellipse cx="938" cy="1305" rx="8" ry="16" fill="#ff4a14"/>
</g>
<use href="#swath" xlink:href="#swath"/><use href="#grid" xlink:href="#grid"/><use href="#coast" xlink:href="#coast"/><use href="#cross" xlink:href="#cross"/>
<rect x="1294" y="108" width="24" height="442" fill="#ff4500"/>
<rect x="1294" y="550" width="24" height="443" fill="#0000ff"/>
<rect x="1294" y="993" width="24" height="440" fill="#fff"/>
<rect x="1294" y="108" width="24" height="1325" fill="none" stroke="#444" stroke-width="3"/>
<g font-size="51"><text x="1328" y="130">Conv</text><text x="1328" y="572">Strat</text><text x="1328" y="1015">N/A</text></g>
<g font-size="30" text-anchor="middle"><text x="204" y="797">86</text><text x="410" y="797">88</text><text x="615" y="797">90</text><text x="822" y="797">92</text><text x="1028" y="797">94</text><text x="1233" y="797">96</text><text x="667" y="299">24</text><text x="667" y="522">22</text><text x="667" y="743">20</text><text x="667" y="964">18</text><text x="667" y="1184">16</text><text x="667" y="1405">14</text></g>
<text x="96" y="175" font-size="65.5">2A23 rain types</text>
<text x="1148" y="1362" font-size="74.5">(h)</text>
</g>

<!-- ================= (i) ================= -->
<g transform="translate(1180.67,1180.67) scale(0.38256)">
<g transform="translate(-25.3,-25.3)">
<path d="M540,1372 L965,1075 L975,1080 L985,1110 L1000,1100 L1040,1085 L1080,1090 L1100,1110 L1110,1140 L1095,1165 L1060,1190 L1020,1200 L990,1210 L970,1225 L950,1220 L930,1200 L900,1200 L870,1215 L840,1235 L810,1255 L790,1290 L760,1320 L730,1345 L700,1365 L670,1390 L640,1410 L610,1420 L580,1400 L560,1390 Z" fill="#a2c8a2"/>
<path d="M560,1390 L620,1350 L700,1300 L780,1250 L850,1210 L900,1195 L880,1220 L820,1250 L780,1290 L740,1330 L690,1370 L640,1410 L610,1420 L580,1400 Z" fill="#a8a8a8"/>
<path d="M600,1330 L700,1260 L800,1190 L900,1120 L965,1075 L975,1085 L920,1130 L850,1180 L760,1240 L680,1290 L620,1330 Z" fill="#82d482"/>
<path d="M950,1180 L970,1140 L1000,1120 L1040,1115 L1075,1125 L1085,1150 L1070,1180 L1040,1195 L1005,1205 L975,1205 L955,1195 Z" fill="#3f68f2"/>
<ellipse cx="850" cy="1165" rx="25" ry="12" fill="#6c98f8"/>
<ellipse cx="640" cy="1345" rx="10" ry="6" fill="#3050f0"/>
<ellipse cx="610" cy="1330" rx="14" ry="7" fill="#8ab8ff"/>
<path d="M1195,1060 L1220,1040 L1255,1035 L1290,1020 L1295,1100 L1270,1115 L1240,1120 L1210,1110 L1195,1090 Z" fill="#88d088"/>
<ellipse cx="1235" cy="1055" rx="28" ry="16" fill="#4a70f0"/>
<path d="M1280,900 L1295,890 L1295,1030 L1270,1020 Z" fill="#a8c4ff"/>
<ellipse cx="1160" cy="985" rx="25" ry="12" fill="#90d090"/>
<ellipse cx="1175" cy="960" rx="14" ry="8" fill="#b0b0b0"/>
<ellipse cx="1105" cy="1100" rx="14" ry="50" fill="#b0c8b0"/>
<path d="M565,1455 L600,1420 L640,1410 L650,1425 L620,1445 L595,1460 Z" fill="#b0b0b0"/>
<ellipse cx="965" cy="1305" rx="10" ry="15" fill="#a8b8a8"/>
</g>
<use href="#swath" xlink:href="#swath"/><use href="#grid" xlink:href="#grid"/><use href="#coast" xlink:href="#coast"/><use href="#cross" xlink:href="#cross"/><use href="#cbStd" xlink:href="#cbStd"/>
<g font-size="30" text-anchor="middle"><text x="204" y="797">86</text><text x="410" y="797">88</text><text x="615" y="797">90</text><text x="822" y="797">92</text><text x="1028" y="797">94</text><text x="1233" y="797">96</text><text x="667" y="299">24</text><text x="667" y="522">22</text><text x="667" y="743">20</text><text x="667" y="964">18</text><text x="667" y="1184">16</text><text x="667" y="1405">14</text></g>
<text x="98" y="175" font-size="65.5">2A23 storm height (km)</text>
<g font-size="51" text-anchor="middle"><text x="1392" y="263">18.0</text><text x="1392" y="395.6">16.0</text><text x="1392" y="528.2">14.0</text><text x="1392" y="660.8">12.0</text><text x="1392" y="793.4">10.0</text><text x="1392" y="926">8.0</text><text x="1392" y="1058.6">6.0</text><text x="1392" y="1191.2">4.0</text><text x="1392" y="1323.8">2.0</text><text x="1392" y="1456.4">0.0</text></g>
<text x="1148" y="1362" font-size="74.5">(i)</text>
</g>
</svg>
</body></html>
